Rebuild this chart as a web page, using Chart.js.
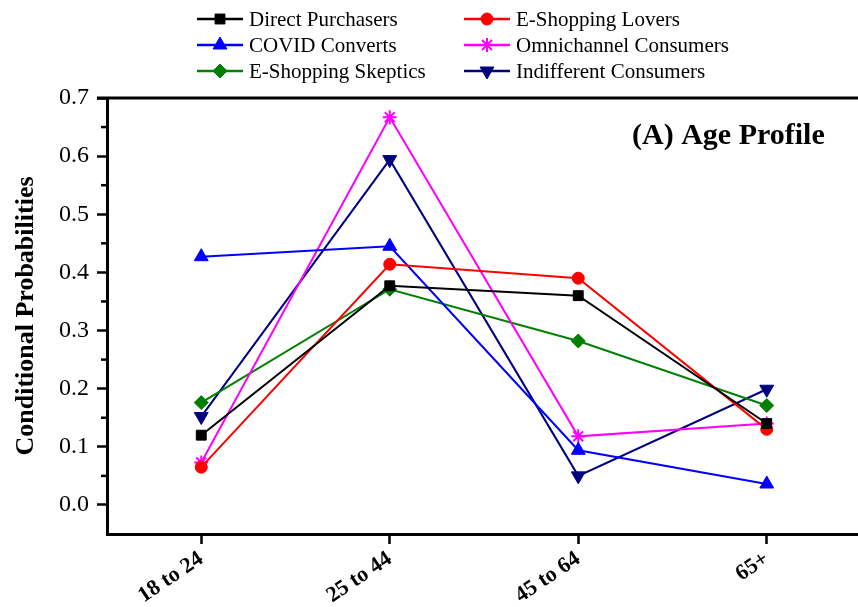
<!DOCTYPE html>
<html>
<head>
<meta charset="utf-8">
<script src="https://cdn.jsdelivr.net/npm/chart.js@4.4.1/dist/chart.umd.min.js"></script>
<style>
html, body { margin: 0; padding: 0; background: #fff; overflow: hidden; }
#wrap { width: 870px; height: 607px; }
</style>
</head>
<body>
<div id="wrap"><canvas id="myChart" width="870" height="607"></canvas></div>
<script>
'use strict';
// values
const ageGroups = ['18 to 24', '25 to 44', '45 to 64', '65+'];
const directPurchasers = [0.120, 0.377, 0.360, 0.140];
const eShoppingLovers = [0.065, 0.414, 0.390, 0.130];
const covidConverts = [0.427, 0.445, 0.094, 0.036];
const omnichannelConsumers = [0.073, 0.667, 0.118, 0.140];
const eShoppingSkeptics = [0.176, 0.371, 0.282, 0.171];
const indifferentConsumers = [0.152, 0.594, 0.050, 0.199];
const yTicks = [0.0, 0.1, 0.2, 0.3, 0.4, 0.5, 0.6, 0.7];
const yMinorTicks = [0.05, 0.15, 0.25, 0.35, 0.45, 0.55, 0.65];

const serif = '"Times New Roman", "Liberation Serif", serif';

function series(label, data, color, style, radius, rotation) {
  return {
    label: label,
    data: data,
    borderColor: color,
    backgroundColor: color,
    borderWidth: 2,
    pointStyle: style,
    pointRadius: radius,
    pointHoverRadius: radius,
    pointRotation: rotation || 0,
    pointBorderWidth: style === 'star' ? 2 : 1,
    tension: 0
  };
}

const datasets = [
  series('Direct Purchasers', directPurchasers, '#000000', 'rect', 7),
  series('E-Shopping Lovers', eShoppingLovers, '#ff0000', 'circle', 6),
  series('COVID Converts', covidConverts, '#0000ff', 'triangle', 8),
  series('Omnichannel Consumers', omnichannelConsumers, '#ff00ff', 'star', 7),
  series('E-Shopping Skeptics', eShoppingSkeptics, '#008000', 'rectRot', 7),
  series('Indifferent Consumers', indifferentConsumers, '#000080', 'triangle', 8, 180)
];

// frame on top, minor ticks, panel title and two-column legend
const extras = {
  id: 'extras',
  afterDraw(chart) {
    const ctx = chart.ctx;
    const area = chart.chartArea;
    const y = chart.scales.y;
    ctx.save();
    ctx.strokeStyle = '#000';
    ctx.lineWidth = 3;
    ctx.beginPath();
    ctx.moveTo(area.left - 10, area.top);
    ctx.lineTo(chart.width, area.top);
    ctx.stroke();

    ctx.lineWidth = 2.5;
    yMinorTicks.forEach(v => {
      const py = y.getPixelForValue(v);
      ctx.beginPath();
      ctx.moveTo(area.left - 6, py);
      ctx.lineTo(area.left, py);
      ctx.stroke();
    });

    ctx.fillStyle = '#000';
    ctx.font = 'bold 30px ' + serif;
    ctx.textAlign = 'left';
    ctx.textBaseline = 'middle';
    ctx.fillText('(A) Age Profile', 632, 136);

    const cols = [197, 464];
    const rows = [19, 45, 71];
    ctx.font = '21px ' + serif;
    chart.data.datasets.forEach((ds, i) => {
      const x0 = cols[i % 2];
      const yy = rows[Math.floor(i / 2)];
      ctx.strokeStyle = ds.borderColor;
      ctx.fillStyle = ds.backgroundColor;
      ctx.lineWidth = 2.5;
      ctx.beginPath();
      ctx.moveTo(x0, yy);
      ctx.lineTo(x0 + 46, yy);
      ctx.stroke();
      ctx.lineWidth = ds.pointBorderWidth;
      Chart.helpers.drawPoint(ctx, {
        pointStyle: ds.pointStyle,
        rotation: ds.pointRotation,
        radius: ds.pointRadius,
        borderWidth: ds.pointBorderWidth
      }, x0 + 23, yy);
      ctx.fillStyle = '#000';
      ctx.fillText(ds.label, x0 + 52, yy + 1);
    });
    ctx.restore();
  }
};

const ctx = document.getElementById('myChart').getContext('2d');
const chart = new Chart(ctx, {
  type: 'line',
  data: {
    labels: ageGroups,
    datasets: datasets
  },
  plugins: [extras],
  options: {
    responsive: false,
    animation: false,
    layout: { padding: { top: 98, left: 0, right: 8, bottom: 0 } },
    plugins: {
      legend: { display: false },
      tooltip: { enabled: false }
    },
    scales: {
      x: {
        offset: true,
        afterFit: s => { s.height = 73; },
        ticks: {
          autoSkip: false,
          minRotation: 34,
          maxRotation: 34,
          padding: 2,
          color: '#000',
          font: { family: serif, size: 22, weight: 'bold' }
        },
        grid: { offset: false, drawOnChartArea: false, tickLength: 10, tickWidth: 2.5, color: '#000' },
        border: { width: 3, color: '#000' }
      },
      y: {
        min: -0.05,
        max: 0.7,
        afterBuildTicks: s => { s.ticks = yTicks.map(v => ({ value: v })); },
        afterFit: s => { s.width = 107; },
        ticks: {
          callback: v => v.toFixed(1),
          padding: 8,
          color: '#000',
          font: { family: serif, size: 24 }
        },
        grid: { drawOnChartArea: false, tickLength: 10, tickWidth: 2.5, color: '#000' },
        border: { width: 3, color: '#000' },
        title: {
          display: true,
          text: 'Conditional Probabilities',
          color: '#000',
          padding: { top: 11, bottom: 0 },
          font: { family: serif, size: 26, weight: 'bold' }
        }
      }
    }
  }
});
</script>
</body>
</html>
